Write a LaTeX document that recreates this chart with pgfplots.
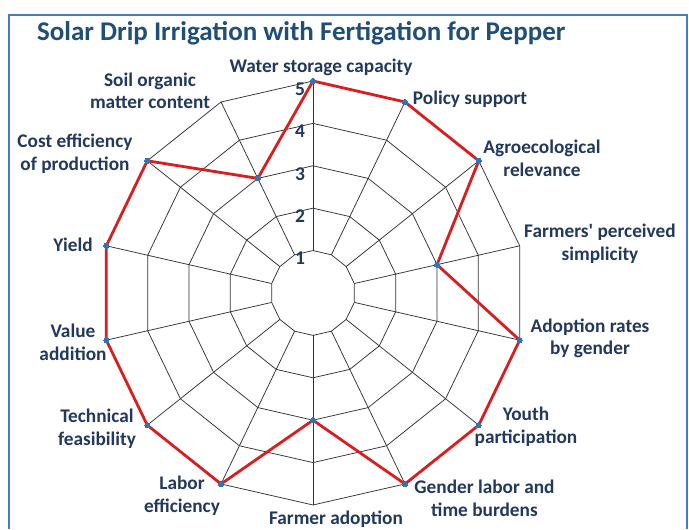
\documentclass[border=0pt]{standalone}
\usepackage{pgfplots}
\pgfplotsset{compat=1.18}
\usepackage{pgfplotstable}
\usepackage{fontspec}
\setmainfont{Carlito}
\definecolor{titlec}{HTML}{1F4E79}
\definecolor{labc}{HTML}{22385C}
\definecolor{redl}{HTML}{D81E1E}
\definecolor{markc}{HTML}{2E75B6}
\definecolor{framec}{HTML}{4A78CC}
\definecolor{gridc}{HTML}{333333}

\pgfplotstableread{
angle value
90 5
64.2857 5
38.5714 5
12.8571 3
-12.8571 5
-38.5714 5
-64.2857 5
-90 3
-115.7143 5
-141.4286 5
-167.1429 5
167.1429 5
141.4286 5
115.7143 3
90 5
}\datatable

\newcommand{\ringcoords}[1]{(90,#1) (64.2857,#1) (38.5714,#1) (12.8571,#1) (-12.8571,#1) (-38.5714,#1) (-64.2857,#1) (-90,#1) (-115.7143,#1) (-141.4286,#1) (-167.1429,#1) (167.1429,#1) (141.4286,#1) (115.7143,#1) (90,#1)}

\begin{document}
\begin{tikzpicture}
\begin{axis}[
  at={(0,0)}, anchor=south west,
  x=42.4pt, y=42.4pt,
  xmin=-7.382, xmax=8.868, ymin=-5.566, ymax=6.910,
  hide axis, clip=false,
  axis line style={draw=none},
]
% white background and frame
\fill[white] (axis cs:-7.382,-5.566) rectangle (axis cs:8.868,6.910);
\draw[framec, line width=2pt] (axis cs:{(9-313)/42.4},-5.566) -- (axis cs:{(9-313)/42.4},{(293-15)/42.4}) -- (axis cs:{(687-313)/42.4},{(293-15)/42.4}) -- (axis cs:{(687-313)/42.4},-5.566);

% grid rings
\pgfplotsinvokeforeach{1,2,3,4,5}{
  \addplot[gridc, line width=0.75pt, data cs=polar, mark=none] coordinates {\ringcoords{#1}};
}
% spokes
\pgfplotsinvokeforeach{90,64.2857,38.5714,12.8571,-12.8571,-38.5714,-64.2857,-90,-115.7143,-141.4286,-167.1429,167.1429,141.4286,115.7143}{
  \addplot[gridc, line width=0.75pt, data cs=polar, mark=none] coordinates {(#1,1) (#1,5)};
}
% data
\addplot[redl, line width=2.8pt, data cs=polar, line join=round,
  mark=*, mark size=2.6pt, mark options={fill=markc, draw=markc, line width=0pt}]
  table[x=angle, y=value] {\datatable};

% radial tick numbers
\pgfplotsinvokeforeach{1,2,3,4,5}{
  \node[labc, font=\bfseries\fontsize{19.5}{19.5}\selectfont, anchor=center, inner sep=0pt] at (axis cs:{(300-313)/42.4},{#1-8/42.4}) {#1};
}

% title
\node[titlec, font=\bfseries\fontsize{27}{30}\selectfont, anchor=west, inner sep=0pt] at (axis cs:{(37-313)/42.4},{(293-33)/42.4}) {Solar Drip Irrigation with Fertigation for Pepper};

% labels
\tikzset{lab/.style={labc, font=\bfseries\fontsize{19.3}{22.6}\selectfont, align=center, anchor=center, inner sep=0pt}}
\newcommand{\lbl}[3]{\node[lab] at (axis cs:{(#1-313)/42.4},{(293-#2)/42.4}) {#3};}
\lbl{321}{67}{Water storage capacity}
\lbl{470}{99}{Policy support}
\lbl{542}{158.5}{Agroecological\\relevance}
\lbl{600}{244}{Farmers\textquotesingle\ perceived\\simplicity}
\lbl{590}{338.5}{Adoption rates\\by gender}
\lbl{526}{426.5}{Youth\\participation}
\lbl{484.5}{498.5}{Gender labor and\\time burdens}
\lbl{336}{519}{Farmer adoption}
\lbl{182}{495.5}{Labor\\efficiency}
\lbl{97}{429}{Technical\\feasibility}
\lbl{73}{342.5}{Value\\addition}
\lbl{73}{245}{Yield}
\lbl{75}{153.5}{Cost efficiency\\of production}
\lbl{150}{91}{Soil organic\\matter content}
\end{axis}
\end{tikzpicture}
\end{document}
